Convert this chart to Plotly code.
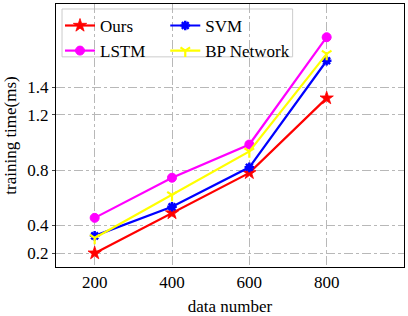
import plotly.graph_objects as go

x_vals = [200, 400, 600, 800]
ours = [0.20, 0.49, 0.78, 1.32]
lstm = [0.455, 0.745, 0.985, 1.76]
svm = [0.325, 0.535, 0.82, 1.59]
bp = [0.31, 0.62, 0.935, 1.64]
y_ticks = [0.2, 0.4, 0.8, 1.2, 1.4]
x_ticks = [200, 400, 600, 800]

font_family = "Times New Roman"

series = [
    ("Ours", ours, "#ff0000", "star", 10, 0.8, "legend"),
    ("LSTM", lstm, "#ff00ff", "circle", 9, 1, "legend"),
    ("SVM", svm, "#0000ff", "asterisk-open", 8, 2.5, "legend2"),
    ("BP Network", bp, "#ffff00", "y-down-open", 8, 2.2, "legend2"),
]

fig = go.Figure()
for name, ys, color, sym, size, lw, leg in series:
    fig.add_trace(go.Scatter(
        x=x_vals, y=ys, name=name, mode="lines+markers", legend=leg,
        line=dict(color=color, width=2.2),
        marker=dict(symbol=sym, size=size, color=color,
                    line=dict(color=color, width=lw)),
    ))

leg_common = dict(
    orientation="v", yanchor="top", xanchor="left",
    bgcolor="rgba(0,0,0,0)", borderwidth=0,
    font=dict(family=font_family, size=17), itemwidth=30, tracegroupgap=0,
)

fig.update_layout(
    width=408, height=316,
    margin=dict(l=56, r=4, t=3, b=44),
    plot_bgcolor="white", paper_bgcolor="white",
    font=dict(family=font_family, size=17, color="black"),
    showlegend=True,
    legend=dict(x=0.0115, y=0.985, **leg_common),
    legend2=dict(x=0.314, y=0.985, **leg_common),
    shapes=[dict(
        type="rect", xref="paper", yref="paper",
        x0=0.0173, x1=0.680, y0=0.799, y1=0.981,
        line=dict(color="#cccccc", width=1),
        fillcolor="rgba(255,255,255,0.85)", layer="between",
    )],
    xaxis=dict(
        range=[100, 1000], tickvals=x_ticks, ticks="", ticklen=0,
        showgrid=True, gridcolor="#b8b8b8", griddash="dashdot", gridwidth=1,
        showline=True, linecolor="black", linewidth=1, mirror=True,
        zeroline=False,
        title=dict(text="data number", font=dict(size=17), standoff=9),
    ),
    yaxis=dict(
        range=[0.1, 2.0], tickvals=y_ticks, ticktext=[f"{v:.1f}" for v in y_ticks],
        ticks="outside", ticklen=3,
        showgrid=True, gridcolor="#b8b8b8", griddash="dashdot", gridwidth=1,
        showline=True, linecolor="black", linewidth=1, mirror=True,
        zeroline=False,
        title=dict(text="training time(ms)", font=dict(size=17), standoff=6),
    ),
)

fig.write_html("out.html", config={"displayModeBar": False},
               post_script="document.body.style.margin='0';")
